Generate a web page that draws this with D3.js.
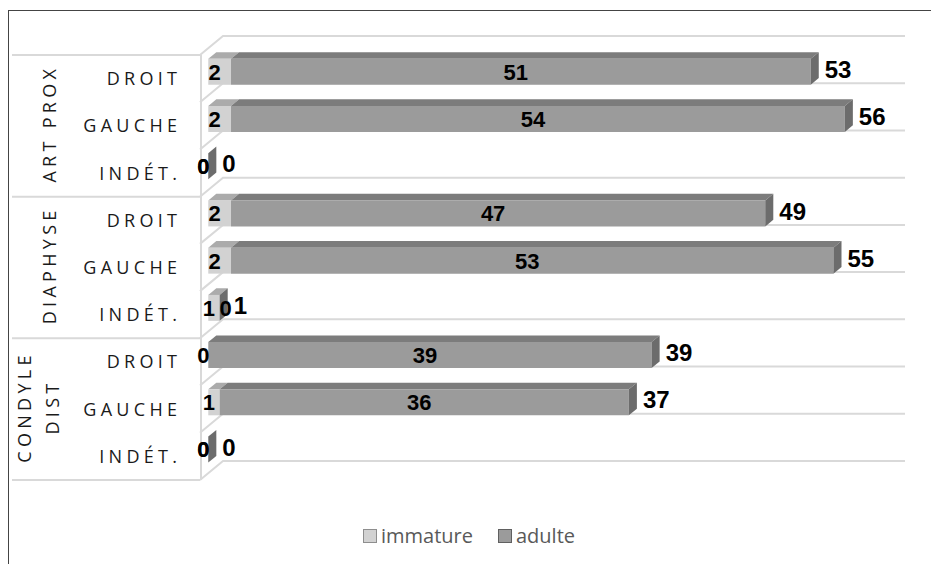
<!DOCTYPE html>
<html><head><meta charset="utf-8">
<script src="https://cdn.jsdelivr.net/npm/d3@7"></script>
<style>body{margin:0;background:#fff}svg{display:block}</style>
</head><body>
<svg id="c" width="931" height="564"></svg>
<script>
// ---- data ----
const groups = ["ART PROX", "DIAPHYSE", "CONDYLE DIST"];
const sides = ["DROIT", "GAUCHE", "INDÉT."];
const seriesNames = ["immature", "adulte"];
const immature = [2, 2, 0, 2, 2, 1, 0, 1, 0];
const adulte   = [51, 54, 0, 47, 53, 0, 39, 36, 0];
const xDomain = [0, 60];

// ---- layout ----
const svg = d3.select("#c");
const W = 931, H = 564;
const plot = {left: 200, right: 882, top: 55, bottom: 480};
const DX = 23, DY = -19;        // depth vector of the 3D box
const zF = 0.36, zB = 0.71;     // bar depth range
const barFrac = 0.55;

const cats = groups.flatMap((g, gi) => sides.map((s, si) => ({g, s, gi, si, key: g + "|" + s})));
cats.forEach((c, i) => { c.imm = immature[i]; c.ad = adulte[i]; c.tot = c.imm + c.ad; });

const x = d3.scaleLinear().domain(xDomain).range([plot.left, plot.right]);
const y = d3.scaleBand().domain(cats.map(c => c.key)).range([plot.top, plot.bottom]).padding(0);
const bw = y.bandwidth();

const colors = {
  immature: {front: "#d2d2d2", top: "#ababab", side: "#9a9a9a"},
  adulte:   {front: "#9b9b9b", top: "#7c7c7c", side: "#6c6c6c"}
};
const gridCol = "#d9d9d9";

// chart border
svg.append("rect").attr("x", 8.5).attr("y", 10.5).attr("width", W + 10).attr("height", H + 10)
  .attr("fill", "#fff").attr("stroke", "#444").attr("stroke-width", 1);

// ---- walls / gridlines ----
const grid = svg.append("g").attr("stroke", gridCol).attr("stroke-width", 2).attr("fill", "none");
const bounds = d3.range(cats.length + 1).map(i => plot.top + i * bw);
bounds.forEach((yf, i) => {
  grid.append("path").attr("d", `M${plot.left},${yf} L${plot.left + DX},${yf + DY} L${plot.right + DX},${yf + DY}`);
});
grid.append("line").attr("x1", plot.left + 1).attr("x2", plot.left + 1).attr("y1", plot.top).attr("y2", plot.bottom);
// multi-level category separators
[0, 3, 6, 9].forEach(i => {
  grid.append("line").attr("x1", 12).attr("x2", plot.left).attr("y1", bounds[i]).attr("y2", bounds[i]);
});

// ---- bars ----
function P(px, py, z) { return [px + z * DX, py + z * DY]; }
const bars = svg.append("g");
cats.forEach(c => {
  const y0 = y(c.key) + bw * (1 - barFrac) / 2, y1 = y0 + bw * barFrac;
  const segs = [
    {name: "immature", v0: 0, v1: c.imm},
    {name: "adulte", v0: c.imm, v1: c.tot}
  ];
  segs.forEach((s, k) => {
    const col = colors[s.name];
    const xa = x(s.v0), xb = x(s.v1);
    const fa = P(xa, y0, zF), fb = P(xb, y0, zF), ba = P(xa, y0, zB), bb = P(xb, y0, zB);
    const fbb = P(xb, y1, zF), bbb = P(xb, y1, zB), fab = P(xa, y1, zF);
    bars.append("path").attr("d", `M${fa}L${fb}L${bb}L${ba}Z`).attr("fill", col.top);
    bars.append("path").attr("d", `M${fa}L${fb}L${fbb}L${fab}Z`).attr("fill", col.front);
    if (k === segs.length - 1) {
      bars.append("path").attr("d", `M${fb}L${bb}L${bbb}L${fbb}Z`).attr("fill", col.side);
    }
  });
});

// ---- data labels ----
const lab = svg.append("g").attr("font-family", "'Liberation Sans', Arial, sans-serif")
  .attr("font-weight", "bold").attr("fill", "#000");
cats.forEach(c => {
  const yc = y(c.key) + bw / 2 + zF * DY;
  lab.append("text").attr("x", (x(0) + x(c.imm)) / 2 + zF * DX - 5).attr("y", yc).attr("dy", "0.36em")
    .attr("text-anchor", "middle").attr("font-size", 22).text(c.imm);
  let ax = (x(c.imm) + x(c.tot)) / 2 + zF * DX - 5;
  if (c.ad === 0 && c.imm > 0) ax = x(c.tot) + zF * DX + 6;
  lab.append("text").attr("x", ax).attr("y", yc).attr("dy", "0.36em")
    .attr("text-anchor", "middle").attr("font-size", 22).text(c.ad);
  lab.append("text").attr("x", x(c.tot) + zB * DX + 6).attr("y", yc - 2.5).attr("dy", "0.36em")
    .attr("text-anchor", "start").attr("font-size", 24).text(c.tot);
});

// ---- category axis labels ----
const ls = 4.3;
const axg = svg.append("g").attr("font-family", "'Open Sans', sans-serif").attr("font-size", 18)
  .attr("fill", "#1a1a1a").attr("letter-spacing", ls);
cats.forEach(c => {
  axg.append("text").attr("x", 177 + ls).attr("y", y(c.key) + bw / 2).attr("dy", "0.36em")
    .attr("text-anchor", "end").text(c.s);
});
groups.forEach((g, gi) => {
  const yc = (bounds[gi * 3] + bounds[gi * 3 + 3]) / 2;
  const lines = g === "CONDYLE DIST" ? g.split(" ") : [g];
  const xs = lines.length === 1 ? [50] : [25, 53];
  lines.forEach((t, li) => {
    axg.append("text").attr("transform", `translate(${xs[li]},${yc}) rotate(-90)`)
      .attr("dx", ls / 2).attr("dy", "0.36em").attr("text-anchor", "middle").text(t);
  });
});

// ---- legend ----
const leg = svg.append("g").attr("font-family", "'Open Sans', sans-serif").attr("font-size", 20).attr("fill", "#595959");
const legX = [363, 498];
seriesNames.forEach((n, i) => {
  leg.append("rect").attr("x", legX[i] + 0.5).attr("y", 529.5).attr("width", 13).attr("height", 13)
    .attr("fill", colors[n].front).attr("stroke", i === 0 ? "#8e8e8e" : "#606060");
  leg.append("text").attr("x", legX[i] + 18).attr("y", 543).text(n);
});
</script>
</body></html>
